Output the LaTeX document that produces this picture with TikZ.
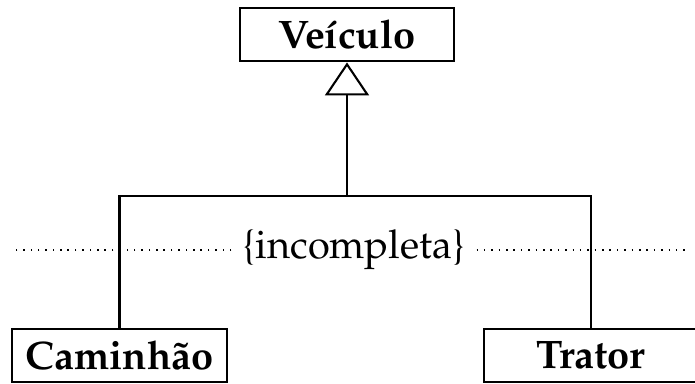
\documentclass[tikz,border=0pt]{standalone}
\usepackage[T1]{fontenc}
\usepackage{mathpazo}
\usepackage{tikz}
\usetikzlibrary{arrows.meta}

\begin{document}
\begin{tikzpicture}[x=0.264pt, y=-0.264pt,
    every node/.style={font=\fontsize{10.5}{12}\selectfont},
    classbox/.style={draw, line width=0.55pt, inner sep=0pt,
      minimum width=56.6pt, minimum height=14.2pt,
      font=\fontsize{10.5}{12}\selectfont\bfseries},
    edge/.style={line width=0.55pt},
    dotline/.style={line width=0.4pt, dash pattern=on 0.4pt off 1.55pt}]
  \clip (0, 0) rectangle (695, 383);

  \node[classbox] (veiculo) at (347, 34.5) { Ve\'{\i}culo };
  \node[classbox] (caminhao) at (119.5, 355.5) { Caminh\~ao };
  \node[classbox] (trator) at (591, 355.5) { Trator };

  \coordinate (split) at (347, 196);
  \draw[edge, -{Triangle[open, width=11.6pt, length=8.7pt, line width=0.55pt]}]
    (split) -- (veiculo.south);
  \draw[edge] (caminhao.north) |- (split) -| (trator.north);

  % restricao da generalizacao
  \node[inner sep=2.7pt] (incompleta) at (354, 250) { \{incompleta\} };
  \coordinate (dotl) at (11, 250);
  \coordinate (dotr) at (690, 250);
  \draw[dotline] (incompleta.west) -- (dotl);
  \draw[dotline] (incompleta.east) -- (dotr);
\end{tikzpicture}
\end{document}
